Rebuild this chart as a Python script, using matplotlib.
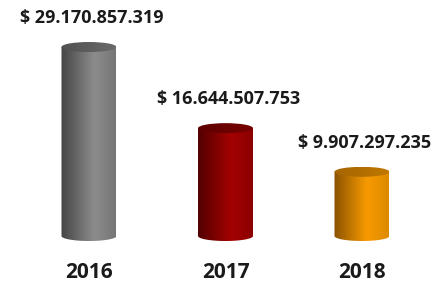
import numpy as np
import matplotlib
matplotlib.use("Agg")
import matplotlib.pyplot as plt
from matplotlib.colors import LinearSegmentedColormap
from matplotlib.patches import Ellipse, PathPatch
from matplotlib.path import Path

years = ["2016", "2017", "2018"]
values = [29170857319, 16644507753, 9907297235]
value_labels = ["$ 29.170.857.319", "$ 16.644.507.753", "$ 9.907.297.235"]

# side shading: left edge, highlight, right edge
body_colors = [
    ["#444444", "#8c8c8c", "#767676"],
    ["#520000", "#a30202", "#8c0000"],
    ["#8a5200", "#f79a00", "#dd8a00"],
]
top_colors = [
    ["#505050", "#6a6a6a"],
    ["#5e0000", "#780000"],
    ["#a46400", "#bf7800"],
]

W, H = 439, 286
fig = plt.figure(figsize=(W / 100, H / 100), dpi=100)
ax = fig.add_axes([0, 0, 1, 1])
ax.axis("off")

# pixel layout -> data limits
px_x = 136.5
x_first = 89
zero_px = 50          # baseline, px from bottom
px_per_val = 189 / values[0]
xlim = (-x_first / px_x, (W - x_first) / px_x)
ylim = (-zero_px / px_per_val, (H - zero_px) / px_per_val)

bar_w = 55 / px_x
ry = 5 / px_per_val   # ellipse half height in data units
grad = np.linspace(0, 1, 256).reshape(1, -1)


def cylinder(x, v, side, top):
    x0, x1 = x - bar_w / 2, x + bar_w / 2
    t = np.linspace(np.pi, 2 * np.pi, 60)
    arc = np.column_stack([x + bar_w / 2 * np.cos(t), ry * np.sin(t)])
    verts = np.vstack([[[x0, v], [x0, 0]], arc, [[x1, 0], [x1, v], [x0, v]]])
    body = PathPatch(Path(verts, closed=True), facecolor="none", edgecolor="none",
                     transform=ax.transData)
    ax.add_patch(body)
    cmap = LinearSegmentedColormap.from_list("side", list(zip([0, 0.6, 1], side)))
    im = ax.imshow(grad, cmap=cmap, extent=[x0, x1, -ry, v], aspect="auto",
                   interpolation="bilinear", zorder=2)
    im.set_clip_path(body)

    cap = Ellipse((x, v), bar_w, 2 * ry, facecolor="none", edgecolor="none",
                  transform=ax.transData)
    ax.add_patch(cap)
    cmap2 = LinearSegmentedColormap.from_list("top", top)
    im2 = ax.imshow(grad, cmap=cmap2, extent=[x0, x1, v - ry, v + ry], aspect="auto",
                    interpolation="bilinear", zorder=3)
    im2.set_clip_path(cap)


for i, v in enumerate(values):
    cylinder(i, v, body_colors[i], top_colors[i])
    ax.annotate(value_labels[i], (i, v), xytext=(3, 29), textcoords="offset pixels",
                ha="center", va="center", fontsize=13, fontweight="bold",
                family="Open Sans", color="#1a1a1a")
    ax.annotate(years[i], (i, 0), xytext=(0, -37), textcoords="offset pixels",
                ha="center", va="center", fontsize=15, fontweight="bold",
                family="Open Sans", color="#1a1a1a")

ax.set_xlim(*xlim)
ax.set_ylim(*ylim)

fig.savefig("out.png", dpi=100)
